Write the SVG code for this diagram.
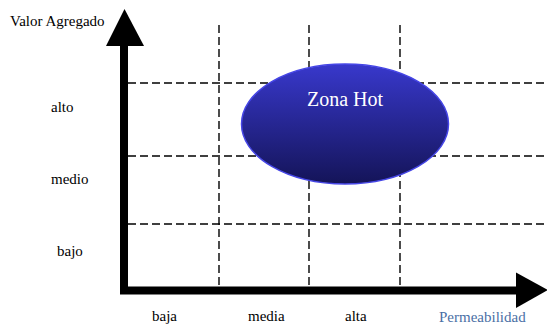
<svg xmlns="http://www.w3.org/2000/svg" width="547" height="325" viewBox="0 0 547 325">
<style>
.lbl{font-family:"Liberation Serif","Times New Roman",serif;font-size:15px;fill:#000}
.grid{stroke:#000;stroke-width:1.4;stroke-dasharray:8 4;fill:none}
.axis{stroke:#000;stroke-width:8;fill:none}
</style>
<defs>
<linearGradient id="g" x1="0" y1="0" x2="0" y2="1">
<stop offset="0" stop-color="#3838CC"/>
<stop offset="1" stop-color="#141458"/>
</linearGradient>
</defs>
<rect width="547" height="325" fill="#fff"/>
<g id="connectors">
<line class="grid" x1="128" y1="83" x2="547" y2="83"/>
<line class="grid" x1="128" y1="156" x2="547" y2="156"/>
<line class="grid" x1="128" y1="224" x2="547" y2="224"/>
<line class="grid" x1="219" y1="25" x2="219" y2="287"/>
<line class="grid" x1="309" y1="25" x2="309" y2="287"/>
<line class="grid" x1="400" y1="25" x2="400" y2="287"/>
</g>
<g id="zona-hot">
<ellipse cx="345" cy="124" rx="103.5" ry="60" fill="url(#g)" stroke="#4646E6" stroke-width="1.5"/>
<text x="345" y="106" text-anchor="middle" font-family="'Liberation Serif','Times New Roman',serif" font-size="20" fill="#fff">Zona Hot</text>
</g>
<g id="axes">
<polyline class="axis" points="124,40 124,290.5 520,290.5"/>
<polygon points="106,46 124.5,9 144,46" fill="#000"/>
<polygon points="516,272.5 548,290 516,308" fill="#000"/>
</g>
<g id="labels">
<text class="lbl" x="10" y="26">Valor Agregado</text>
<text class="lbl" x="51" y="112">alto</text>
<text class="lbl" x="51" y="184">medio</text>
<text class="lbl" x="57" y="256">bajo</text>
<text class="lbl" x="152" y="321">baja</text>
<text class="lbl" x="248" y="321">media</text>
<text class="lbl" x="345" y="321">alta</text>
<text class="lbl" x="439" y="322" style="fill:#4A6FA5">Permeabilidad</text>
</g>
</svg>
